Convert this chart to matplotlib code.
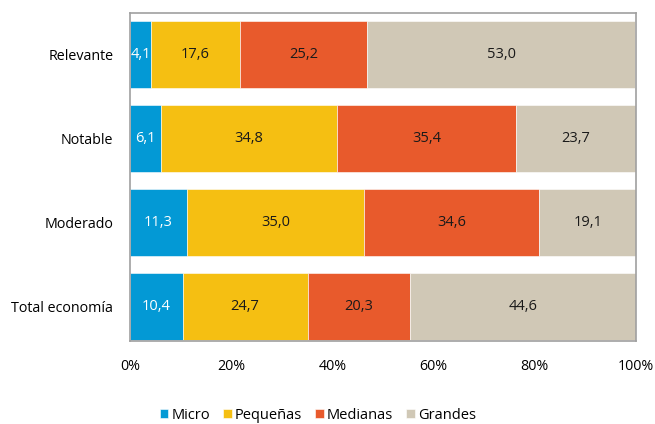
import matplotlib.pyplot as plt
import numpy as np

plt.rcParams['font.family'] = ['Open Sans', 'DejaVu Sans']

categorias = ['Relevante', 'Notable', 'Moderado', 'Total economía']
micro = [4.1, 6.1, 11.3, 10.4]
pequenas = [17.6, 34.8, 35.0, 24.7]
medianas = [25.2, 35.4, 34.6, 20.3]
grandes = [53.0, 23.7, 19.1, 44.6]

series = [('Micro', micro, '#0399d5', 'white'),
          ('Pequeñas', pequenas, '#f5bf12', '#1a1a1a'),
          ('Medianas', medianas, '#e85a2c', '#1a1a1a'),
          ('Grandes', grandes, '#d0c8b6', '#1a1a1a')]

fig = plt.figure(figsize=(6.55, 4.24), dpi=100)
ax = fig.add_axes([0.1985, 0.196, 0.7725, 0.773])

y = np.arange(len(categorias))
left = np.zeros(len(categorias))
for nombre, vals, color, tcolor in series:
    vals = np.array(vals)
    bars = ax.barh(y, vals, left=left, height=0.8, color=color,
                   edgecolor='white', linewidth=0.4, label=nombre)
    for b, v in zip(bars, vals):
        ax.text(b.get_x() + b.get_width() / 2, b.get_y() + b.get_height() / 2,
                f'{v:.1f}'.replace('.', ','), ha='center', va='center',
                color=tcolor, fontsize=10.5)
    left += vals

ax.set_xlim(0, 100)
ax.set_ylim(3.41, -0.494)
ax.set_yticks(y)
ax.set_yticklabels(categorias, fontsize=10.3)
ax.set_xticks(np.arange(0, 101, 20))
ax.set_xticklabels([f'{v}%' for v in range(0, 101, 20)], fontsize=10.3)
ax.tick_params(length=0, pad=13)
ax.tick_params(axis='y', pad=12)
for s in ax.spines.values():
    s.set_color('#a0a0a0')
    s.set_linewidth(1.2)

fig.legend(loc='lower center', bbox_to_anchor=(0.485, -0.028), ncol=4,
           frameon=False, fontsize=10.5, handlelength=0.6, handleheight=0.6,
           handletextpad=0.2, columnspacing=0.9)

fig.savefig('out.png', dpi=100)
